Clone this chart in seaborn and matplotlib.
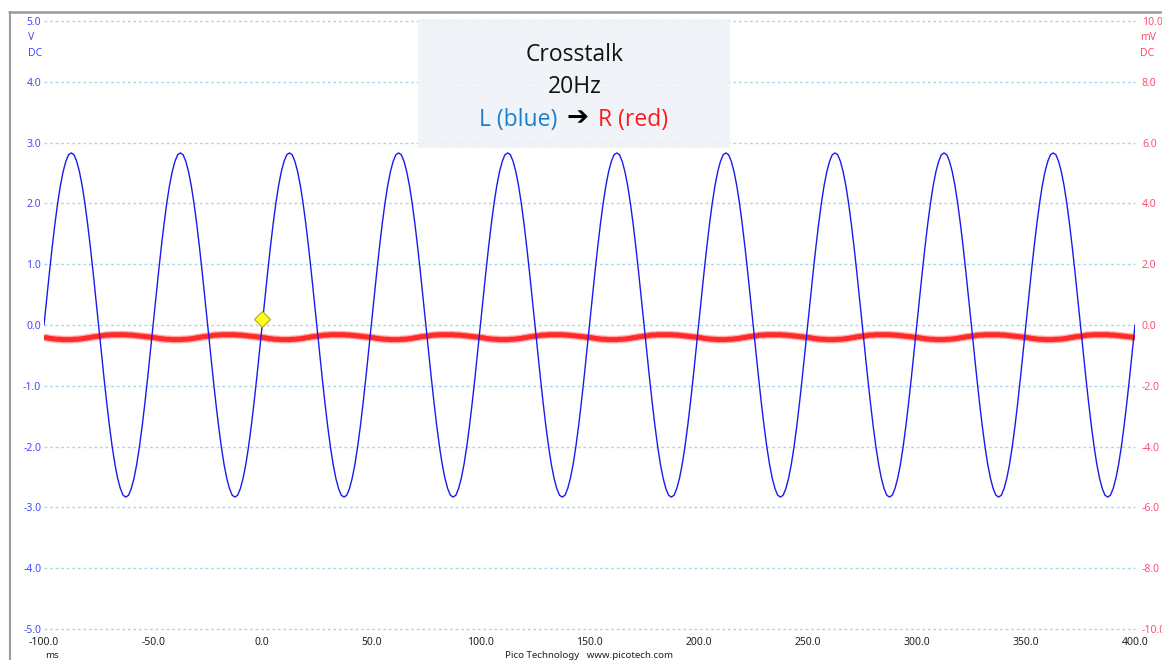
import numpy as np
import pandas as pd
import matplotlib
matplotlib.use("Agg")
import matplotlib.pyplot as plt
from matplotlib.patches import Rectangle
from matplotlib.lines import Line2D
import seaborn as sns

# time axis (ms), one sample every 1.25 ms, 10 cycles of the 20 Hz tone
t_start, t_step, n_cycles = -100.0, 1.25, 10

# channel A (L, blue), volts, one cycle
blue_cycle = [0.00, 0.44, 0.87, 1.28, 1.66, 2.00, 2.29, 2.52, 2.69, 2.80,
              2.83, 2.80, 2.69, 2.52, 2.29, 2.00, 1.66, 1.28, 0.87, 0.44,
              0.00, -0.44, -0.87, -1.28, -1.66, -2.00, -2.29, -2.52, -2.69, -2.80,
              -2.83, -2.80, -2.69, -2.52, -2.29, -2.00, -1.66, -1.28, -0.87, -0.44]
red_cycle = [-0.41, -0.42, -0.44, -0.45, -0.46, -0.47, -0.47, -0.48, -0.48, -0.48,
             -0.48, -0.47, -0.47, -0.46, -0.45, -0.44, -0.42, -0.41, -0.39, -0.38,
             -0.37, -0.36, -0.34, -0.33, -0.33, -0.32, -0.32, -0.32, -0.32, -0.32,
             -0.32, -0.33, -0.33, -0.34, -0.35, -0.36, -0.37, -0.38, -0.39, -0.40]

x_ticks = [-100, -50, 0, 50, 100, 150, 200, 250, 300, 350, 400]
left_ticks = [-5, -4, -3, -2, -1, 0, 1, 2, 3, 4, 5]
right_ticks = [-10, -8, -6, -4, -2, 0, 2, 4, 6, 8, 10]

trigger_t, trigger_v = 0.0, 0.1

n = len(blue_cycle) * n_cycles + 1
t = t_start + t_step * np.arange(n)
df = pd.DataFrame({
    "t": t,
    "blue": np.append(np.tile(blue_cycle, n_cycles), blue_cycle[0]),
    "red": np.append(np.tile(red_cycle, n_cycles), red_cycle[0]),
})

sns.set_style("white")
plt.rcParams["font.family"] = ["Noto Sans", "DejaVu Sans"]

W, H = 1162, 660
fig = plt.figure(figsize=(W / 100, H / 100), dpi=100)
fig.patch.set_facecolor("white")

left, right, top, bottom = 44, 1135, 21, 629
ax = fig.add_axes([left / W, 1 - bottom / H, (right - left) / W, (bottom - top) / H])
ax2 = ax.twinx()

# red channel on the right axis, kept underneath the blue one
ax.set_zorder(ax2.get_zorder() + 1)
ax.patch.set_visible(False)

grid_kw = dict(color="#a8d8e6", linestyle=(0, (2, 2)), linewidth=1.0)
ax2.grid(True, axis="both", **grid_kw)
ax.grid(False)

sns.lineplot(data=df, x="t", y="red", ax=ax2, color="#ff4a4a", linewidth=5.5,
             alpha=0.45, legend=False, solid_capstyle="butt")
sns.lineplot(data=df, x="t", y="red", ax=ax2, color="#ff2a2a", linewidth=3.6,
             legend=False, solid_capstyle="butt")
sns.lineplot(data=df, x="t", y="blue", ax=ax, color="#1a1aee", linewidth=1.0,
             legend=False)
ax.plot([trigger_t], [trigger_v], marker="D", markersize=8, color="#ffff20",
        markeredgecolor="#b8a800", markeredgewidth=0.8, zorder=5)

ax.set_xlim(-100, 400)
ax.set_ylim(-5, 5)
ax2.set_ylim(-10, 10)
ax.set_xticks(x_ticks)
ax.set_xticklabels([f"{v:.1f}" for v in x_ticks])
ax.set_yticks(left_ticks)
ax.set_yticklabels([f"{v:.1f}" for v in left_ticks])
ax2.set_yticks(right_ticks)
ax2.set_yticklabels([f"{v:.1f}" for v in right_ticks])
ax.set_xlabel("")
ax.set_ylabel("")
ax2.set_xlabel("")
ax2.set_ylabel("")

ax.tick_params(axis="x", length=0, pad=6, labelsize=7.5, labelcolor="#202020")
ax.tick_params(axis="y", length=0, pad=2, labelsize=7.5, labelcolor="#4848ff")
ax2.tick_params(axis="y", length=0, pad=5, labelsize=7.5, labelcolor="#ff5070")
for a in (ax, ax2):
    for s in a.spines.values():
        s.set_visible(False)

# keep the edge gridlines whole
for gl in ax2.get_xgridlines() + ax2.get_ygridlines():
    gl.set_clip_on(False)


def px(x, y):
    return x / W, 1 - y / H


# units under the top tick labels
fig.text(*px(28, 38), "V", color="#4848ff", fontsize=7.5, va="center", ha="left")
fig.text(*px(28, 54), "DC", color="#4848ff", fontsize=7.5, va="center", ha="left")
fig.text(*px(1140, 38), "mV", color="#ff5070", fontsize=7.5, va="center", ha="left")
fig.text(*px(1140, 54), "DC", color="#ff5070", fontsize=7.5, va="center", ha="left")
fig.text(*px(45, 651), "ms", color="#202020", fontsize=7, va="top", ha="left")
fig.text(*px(589, 651), "Pico Technology   www.picotech.com", color="#202020",
         fontsize=7, va="top", ha="center")

# title box
bx0, by0, bx1, by1 = 418, 19, 730, 148
fig.add_artist(Rectangle(px(bx0, by1), (bx1 - bx0) / W, (by1 - by0) / H,
                         transform=fig.transFigure, facecolor="#eef3f8",
                         edgecolor="none", alpha=0.85, zorder=10))
title_kw = dict(fontsize=16.5, va="baseline", zorder=11, family=["Open Sans", "DejaVu Sans"])
fig.text(*px(575, 61), "Crosstalk", color="#111111", ha="center", **title_kw)
fig.text(*px(575, 93), "20Hz", color="#111111", ha="center", **title_kw)
fig.text(*px(557, 126), "L (blue)", color="#1a7fd0", ha="right", **title_kw)
fig.text(*px(578, 125), "\u2794", color="#000000", ha="center",
         fontsize=19, va="baseline", zorder=11, family=["DejaVu Sans"], fontweight="bold")
fig.text(*px(598, 126), "R (red)", color="#ff1a1a", ha="left", **title_kw)

# window frame
fig.add_artist(Line2D([9 / W, 1], [1 - 11.5 / H, 1 - 11.5 / H], color="#a09a90",
                      linewidth=1.8, transform=fig.transFigure))
fig.add_artist(Line2D([9.5 / W, 9.5 / W], [0, 1 - 11.5 / H], color="#a09a90",
                      linewidth=1.5, transform=fig.transFigure))

fig.savefig("out.png", dpi=100)
